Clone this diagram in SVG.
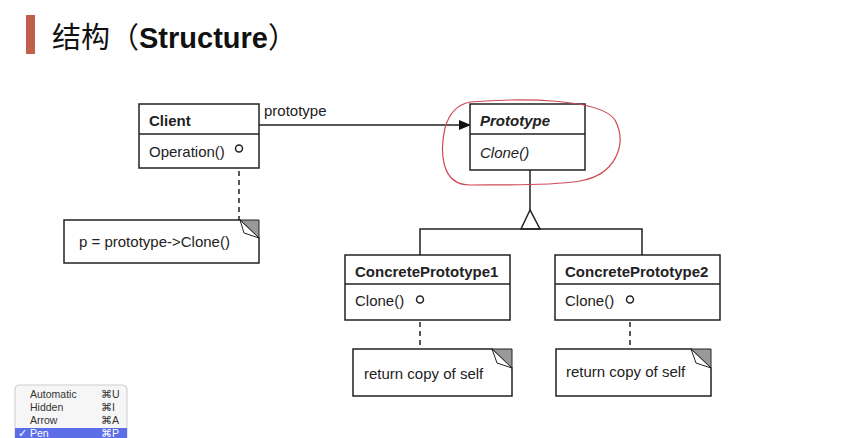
<svg xmlns="http://www.w3.org/2000/svg" width="842" height="438" viewBox="0 0 842 438">
<defs>
<style>
.box{fill:#fff;stroke:#222;stroke-width:1.5}
.ln{stroke:#222;stroke-width:1.5;fill:none}
.dash{stroke:#222;stroke-width:1.5;fill:none;stroke-dasharray:5,4}
.t{font-family:"Liberation Sans",Arial,sans-serif;font-size:15px;fill:#222}
.b{font-weight:bold}
.i{font-style:italic}
.fold{fill:#999;stroke:#222;stroke-width:1}
.flap{fill:#fff;stroke:#222;stroke-width:1}
.menu{font-family:"Liberation Sans",Arial,sans-serif;font-size:10.5px;fill:#333}
</style>
<marker id="arr" markerWidth="12" markerHeight="10" refX="11" refY="5" orient="auto" markerUnits="userSpaceOnUse">
<path d="M0,0 L12,5 L0,10 Z" fill="#111"/>
</marker>
</defs>
<rect width="842" height="438" fill="#fff"/>
<g id="title">
<rect x="26" y="15" width="9" height="39" fill="#c0604a"/>
<text x="52" y="48" font-family="'Noto Sans CJK SC','Liberation Sans',sans-serif" font-size="29" fill="#111">结构（<tspan font-family="'Liberation Sans',Arial,sans-serif" font-weight="bold">Structure</tspan>）</text>
</g>
<g id="connectors">
<line class="ln" x1="259" y1="125" x2="470" y2="125" marker-end="url(#arr)"/>
<text class="t" x="264" y="116">prototype</text>
<line class="ln" x1="239" y1="152" x2="239" y2="159"/>
<line class="dash" x1="239" y1="162" x2="239" y2="220"/>
<line class="ln" x1="530" y1="170" x2="530" y2="210"/>
<path class="ln" d="M530,210 L521,229 L540,229 Z" fill="#fff"/>
<path class="ln" d="M420,255 L420,229 L642,229 L642,255"/>
<line class="ln" x1="420" y1="303" x2="420" y2="310"/>
<line class="dash" x1="420" y1="313" x2="420" y2="355"/>
<line class="ln" x1="630" y1="303" x2="630" y2="310"/>
<line class="dash" x1="630" y1="313" x2="630" y2="349"/>
</g>
<g id="client">
<rect class="box" x="139" y="104" width="120" height="64"/>
<line class="ln" x1="139" y1="134" x2="259" y2="134"/>
<text class="t b" x="149" y="126">Client</text>
<text class="t" x="149" y="157">Operation()</text>
<circle cx="239" cy="148.5" r="3.5" fill="#fff" stroke="#222" stroke-width="1.5"/>
</g>
<g id="prototype">
<rect class="box" x="470" y="104" width="115" height="66"/>
<line class="ln" x1="470" y1="134" x2="585" y2="134"/>
<text class="t b i" x="480" y="126">Prototype</text>
<text class="t i" x="480" y="158">Clone()</text>
</g>
<g id="highlight">
<path d="M470,102 C520,98 600,98 615,120 C628,145 615,175 580,181 C540,187 500,184 470,185 C440,185 440,150 445,128 C450,110 460,104 470,102" fill="none" stroke="#d04a55" stroke-width="1.2"/>
</g>
<g id="note-client">
<path class="box" d="M64,220 L240,220 L259,238 L259,263 L64,263 Z"/>
<path class="fold" d="M240,220 L259,220 L259,238 Z"/>
<path class="flap" d="M240,220 L244,233 L259,238 Z"/>
<text class="t" x="79" y="247">p = prototype-&gt;Clone()</text>
</g>
<g id="concrete1">
<rect class="box" x="345" y="255" width="165" height="65"/>
<line class="ln" x1="345" y1="284" x2="510" y2="284"/>
<text class="t b" x="355" y="277">ConcretePrototype1</text>
<text class="t" x="355" y="306">Clone()</text>
<circle cx="420" cy="299.5" r="3.5" fill="#fff" stroke="#222" stroke-width="1.5"/>
</g>
<g id="note1">
<path class="box" d="M353,349 L492,349 L512,368 L512,396 L353,396 Z"/>
<path class="fold" d="M492,349 L512,349 L512,368 Z"/>
<path class="flap" d="M492,349 L497,363 L512,368 Z"/>
<text class="t" x="364" y="379">return copy of self</text>
</g>
<g id="concrete2">
<rect class="box" x="555" y="255" width="165" height="65"/>
<line class="ln" x1="555" y1="284" x2="720" y2="284"/>
<text class="t b" x="565" y="277">ConcretePrototype2</text>
<text class="t" x="565" y="306">Clone()</text>
<circle cx="630" cy="299.5" r="3.5" fill="#fff" stroke="#222" stroke-width="1.5"/>
</g>
<g id="note2">
<path class="box" d="M556,349 L691,349 L711,368 L711,396 L556,396 Z"/>
<path class="fold" d="M691,349 L711,349 L711,368 Z"/>
<path class="flap" d="M691,349 L696,363 L711,368 Z"/>
<text class="t" x="566" y="377">return copy of self</text>
</g>
<g id="menu">
<rect x="15" y="385" width="112" height="60" rx="4" fill="#f6f6f6" stroke="#ccc" stroke-width="1"/>
<rect x="15" y="428" width="112" height="12" fill="#5b6ee8"/>
<text class="menu" x="30" y="398">Automatic</text><text class="menu" x="101" y="398">⌘U</text>
<text class="menu" x="30" y="411">Hidden</text><text class="menu" x="101" y="411">⌘I</text>
<text class="menu" x="30" y="424">Arrow</text><text class="menu" x="101" y="424">⌘A</text>
<text class="menu" x="18" y="437" style="fill:#fff">✓ Pen</text><text class="menu" x="101" y="437" style="fill:#fff">⌘P</text>
</g>
</svg>
